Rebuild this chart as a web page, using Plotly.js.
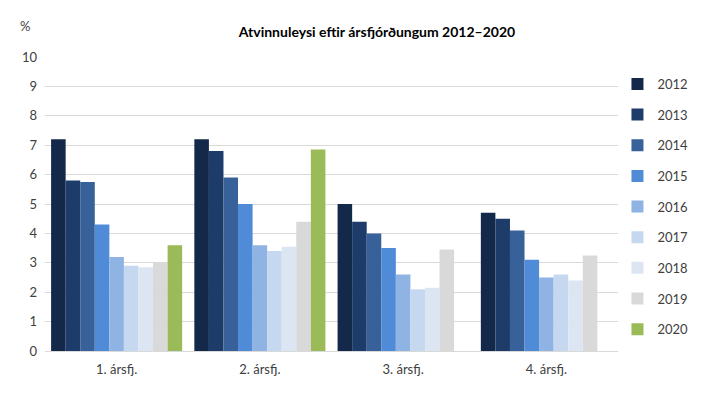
<!DOCTYPE html>
<html>
<head>
<meta charset="utf-8">
<script src="https://cdn.plot.ly/plotly-3.0.1.min.js"></script>
<style>html,body{margin:0;padding:0;background:#fff;}#chart{width:713px;height:393px;}</style>
</head>
<body>
<div id="chart"></div>
<script>
const categories = ["1. ársfj.", "2. ársfj.", "3. ársfj.", "4. ársfj."];
const years = ["2012", "2013", "2014", "2015", "2016", "2017", "2018", "2019", "2020"];
const v2012 = [7.2, 7.2, 5.0, 4.7];
const v2013 = [5.8, 6.8, 4.4, 4.5];
const v2014 = [5.75, 5.9, 4.0, 4.1];
const v2015 = [4.3, 5.0, 3.5, 3.1];
const v2016 = [3.2, 3.6, 2.6, 2.5];
const v2017 = [2.9, 3.4, 2.1, 2.6];
const v2018 = [2.85, 3.55, 2.15, 2.4];
const v2019 = [3.0, 4.4, 3.45, 3.25];
const v2020 = [3.6, 6.85, null, null];
const series = [v2012, v2013, v2014, v2015, v2016, v2017, v2018, v2019, v2020];
const colors = ["#14284a", "#1d3c69", "#38619a", "#4f8bd6", "#8fb4e3", "#c5d8f0", "#dce6f2", "#d9d9d9", "#9bbb59"];

const FONT = "Lato, 'Open Sans', sans-serif";
const traces = years.map((y, i) => ({
  type: "bar",
  name: y,
  x: categories,
  y: series[i],
  marker: {color: colors[i], line: {width: 0}},
  legendgroup: "g" + i,
  hoverinfo: "x+y+name"
}));

const layout = {
  width: 713, height: 393,
  margin: {l: 45, r: 95, t: 57, b: 42},
  paper_bgcolor: "#ffffff", plot_bgcolor: "#ffffff",
  font: {family: FONT, color: "#404040", size: 13},
  title: {text: "Atvinnuleysi eftir ársfjórðungum 2012–2020", font: {family: FONT, size: 14, color: "#000000", weight: "bold"}, x: 377/713, xanchor: "center", y: 1 - 32/393, yanchor: "middle"},
  barmode: "group",
  bargap: 0.085,
  bargroupgap: 0,
  showlegend: true,
  legend: {x: 1.02 - 12/573, xanchor: "left", y: 1 - (69 - 57)/294, yanchor: "top", font: {family: FONT, size: 13, color: "#404040"}, tracegroupgap: 10.75, bgcolor: "rgba(0,0,0,0)"},
  xaxis: {type: "category", showgrid: false, showline: true, linecolor: "#d9d9d9", linewidth: 1, ticks: "", ticklabelstandoff: 6, tickfont: {family: FONT, size: 13, color: "#404040"}, fixedrange: true},
  yaxis: {range: [0, 10], dtick: 1, tick0: 0, showgrid: true, gridcolor: "#d9d9d9", gridwidth: 1, zeroline: false, showline: false, ticks: "", ticklabelstandoff: 7, tickfont: {family: FONT, size: 13, color: "#404040"}, fixedrange: true},
  annotations: [{text: "%", xref: "paper", yref: "paper", x: -20/573, y: 1 + 31/294, xanchor: "center", yanchor: "middle", showarrow: false, font: {family: FONT, size: 13, color: "#404040"}}]
};

Plotly.newPlot("chart", traces, layout, {displayModeBar: false, staticPlot: true});
</script>
</body>
</html>
